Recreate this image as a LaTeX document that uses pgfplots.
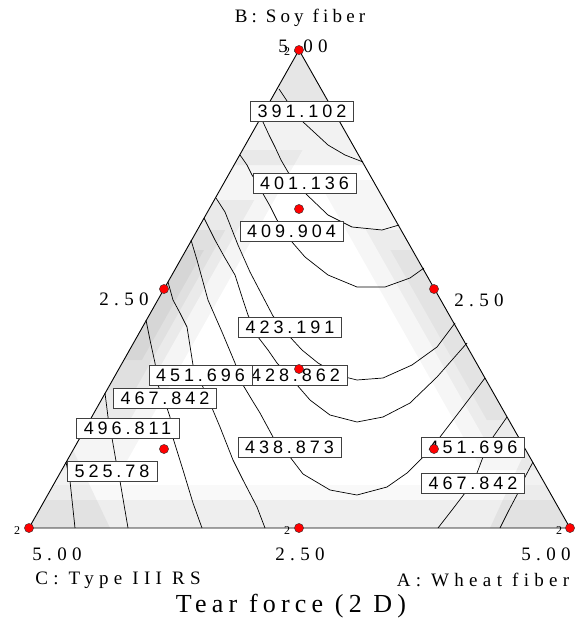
\documentclass[border=0pt]{standalone}
\usepackage{fontspec}
\usepackage{pgfplots}
\pgfplotsset{compat=1.18}
\setmainfont{Liberation Serif}
\newfontfamily\axfont{Liberation Serif}[LetterSpace=22]
\newfontfamily\axwide{Liberation Serif}[LetterSpace=28]
\newfontfamily\titlefont{Liberation Serif}[LetterSpace=20]
\newfontfamily\labfont{Liberation Sans}[LetterSpace=22]
\newfontfamily\repfont{Liberation Serif}

\tikzset{
  cline/.style={black, line width=0.7bp, line join=round},
  shade band/.style={fill=black, fill opacity=#1, draw=none},
  labelbox/.style={draw=black!75, line width=0.8bp, fill=white, inner sep=0pt,
    minimum width=103bp, minimum height=20bp,
    font=\labfont\fontsize{18bp}{20bp}\selectfont},
  axtext/.style={font=\axwide\fontsize{19bp}{22bp}\selectfont},
  reptext/.style={font=\repfont\fontsize{12bp}{13bp}\selectfont},
}

\begin{document}
\begin{tikzpicture}
\begin{axis}[
  name=ax,
  width=579bp, height=624bp, scale only axis,
  xmin=0, xmax=579, ymin=0, ymax=624,
  y dir=reverse, hide axis, clip=false,
]

% grey shading of the response surface near the edges
% left edge
\addplot[shade band=0.04] coordinates {(242.5,150) (302.5,150) (121.8,470) (61.8,470)};
\addplot[shade band=0.045] coordinates {(214.3,200) (254.3,200) (130,420) (90,420)};
\addplot[shade band=0.045] coordinates {(197.3,230) (225.3,230) (135,390) (107,390)};
\addplot[shade band=0.045] coordinates {(186,250) (204,250) (141.9,360) (123.9,360)};
% right edge
\addplot[shade band=0.035] coordinates {(372.7,180) (317.7,180) (482,470) (537,470)};
\addplot[shade band=0.04] coordinates {(401,230) (366,230) (490.8,450) (525.8,450)};
\addplot[shade band=0.04] coordinates {(412.4,250) (390.4,250) (486.8,420) (508.8,420)};
% top corner
\addplot[shade band=0.05] coordinates {(299,50) (234,165) (364.2,165)};
\addplot[shade band=0.05] coordinates {(299,50) (265.1,110) (333,110)};
% bottom strip and corners
\addplot[shade band=0.025] coordinates {(53.3,485) (545.6,485) (570,528) (29,528)};
\addplot[shade band=0.045] coordinates {(44.8,500) (554.1,500) (570,528) (29,528)};
\addplot[shade band=0.05] coordinates {(29,528) (73,450) (110,528)};
\addplot[shade band=0.05] coordinates {(570,528) (525.8,450) (490,528)};

% contour lines
\addplot[cline] coordinates {(279,89) (287,101) (295,111) (302,121) (315,133) (328,145) (345,155) (363,162)};
\addplot[cline] coordinates {(268,112) (263,122) (269,135) (275,147) (281,160) (288,172) (295,183) (305,193) (328,215) (352,227) (382,230) (399,225)};
\addplot[cline] coordinates {(240,155) (247,165) (252,175) (258,184) (262,192) (270,206) (277,220) (285,231) (292,242) (305,257) (328,275) (357,287) (385,287) (410,278) (424,268)};
\addplot[cline] coordinates {(216,198) (225,212) (238,245) (250,272) (262,295) (273,316) (282,327) (290,337) (302,350) (318,363) (332,371) (345,377) (357,380) (383,378) (412,365) (437,347) (455,323)};
\addplot[cline] coordinates {(204,218) (215,240) (225,258) (235,275) (243,300) (248,315) (253,326) (258,337) (268,350) (277,363) (287,374) (297,385) (310,400) (330,415) (357,422) (383,417) (410,403) (437,377) (467,343)};
\addplot[cline] coordinates {(191,240) (197,260) (208,300) (222,332) (235,363) (239,374) (243,385) (252,400) (260,413) (273,437) (282,447) (290,457) (303,474) (330,490) (357,495) (387,487) (407,473) (423,457) (432,447) (440,437) (463,407) (485,378)};
\addplot[cline] coordinates {(168,282) (173,300) (180,313) (187,327) (193,365) (197,375) (202,385) (207,396) (212,408) (220,427) (233,460) (243,480) (257,507) (265,528)};
\addplot[cline] coordinates {(146,320) (150,340) (155,363) (157,374) (158,385) (162,396) (167,408) (170,417) (172,428) (173,438) (183,470) (193,503) (202,528)};
\addplot[cline] coordinates {(105,393) (108,417) (110,428) (112,438) (116,461) (118,471) (120,481) (128,528)};
\addplot[cline] coordinates {(66,462) (70,481) (75,528)};
\addplot[cline] coordinates {(507,417) (493,437) (488,447) (483,457) (477,473) (471,483) (465,493) (452,510) (438,528)};
\addplot[cline] coordinates {(533,462) (525,477) (521,485) (518,493) (509,510) (500,528)};

% triangle frame
\addplot[black, line width=0.9bp, line join=round] coordinates {(299,50) (29,528) (570,528) (299,50)};

% contour value labels
\node[labelbox] at (axis cs:302,111) {391.102};
\node[labelbox] at (axis cs:304.5,183) {401.136};
\node[labelbox] at (axis cs:291.5,231) {409.904};
\node[labelbox] at (axis cs:290,327) {423.191};
\node[labelbox] at (axis cs:295.5,375) {428.862};
\node[labelbox] at (axis cs:200.5,375) {451.696};
\node[labelbox] at (axis cs:165,398) {467.842};
\node[labelbox] at (axis cs:127.5,428) {496.811};
\node[labelbox, minimum width=90bp] at (axis cs:112,471) {525.78};
\node[labelbox] at (axis cs:289.5,447) {438.873};
\node[labelbox] at (axis cs:473,447) {451.696};
\node[labelbox] at (axis cs:473,483) {467.842};

% vertex and edge values
\node[axtext] at (axis cs:303,46.5) {5.00};
\node[font=\axfont\fontsize{19bp}{22bp}\selectfont] at (axis cs:300,18) {B: Soy fiber};
\node[axtext] at (axis cs:124,299) {2.50};
\node[axtext] at (axis cs:479,300) {2.50};
\node[axtext] at (axis cs:57,554) {5.00};
\node[axtext] at (axis cs:300,554) {2.50};
\node[axtext] at (axis cs:546,554) {5.00};
\node[axtext] at (axis cs:118,580) {C: Type III RS};
\node[axtext] at (axis cs:483,580) {A: Wheat fiber};
\node[font=\titlefont\fontsize{26bp}{29bp}\selectfont] at (axis cs:291,606) {Tear force (2 D)};

% replicate counts
\node[reptext] at (axis cs:287,52) {2};
\node[reptext] at (axis cs:17,531) {2};
\node[reptext] at (axis cs:287,531) {2};
\node[reptext] at (axis cs:559,531) {2};

% design points
\addplot[only marks, mark=*, mark size=4.6bp,
  mark options={fill=red, draw=black!80, line width=0.4bp}] coordinates {
  (299,50) (29,528) (570,528) (299,528) (164,289) (434,289)
  (299,209) (299,369) (164,449) (434,449)};
\end{axis}
\pgfresetboundingbox
\useasboundingbox (ax.south west) rectangle (ax.north east);
\end{tikzpicture}
\end{document}
